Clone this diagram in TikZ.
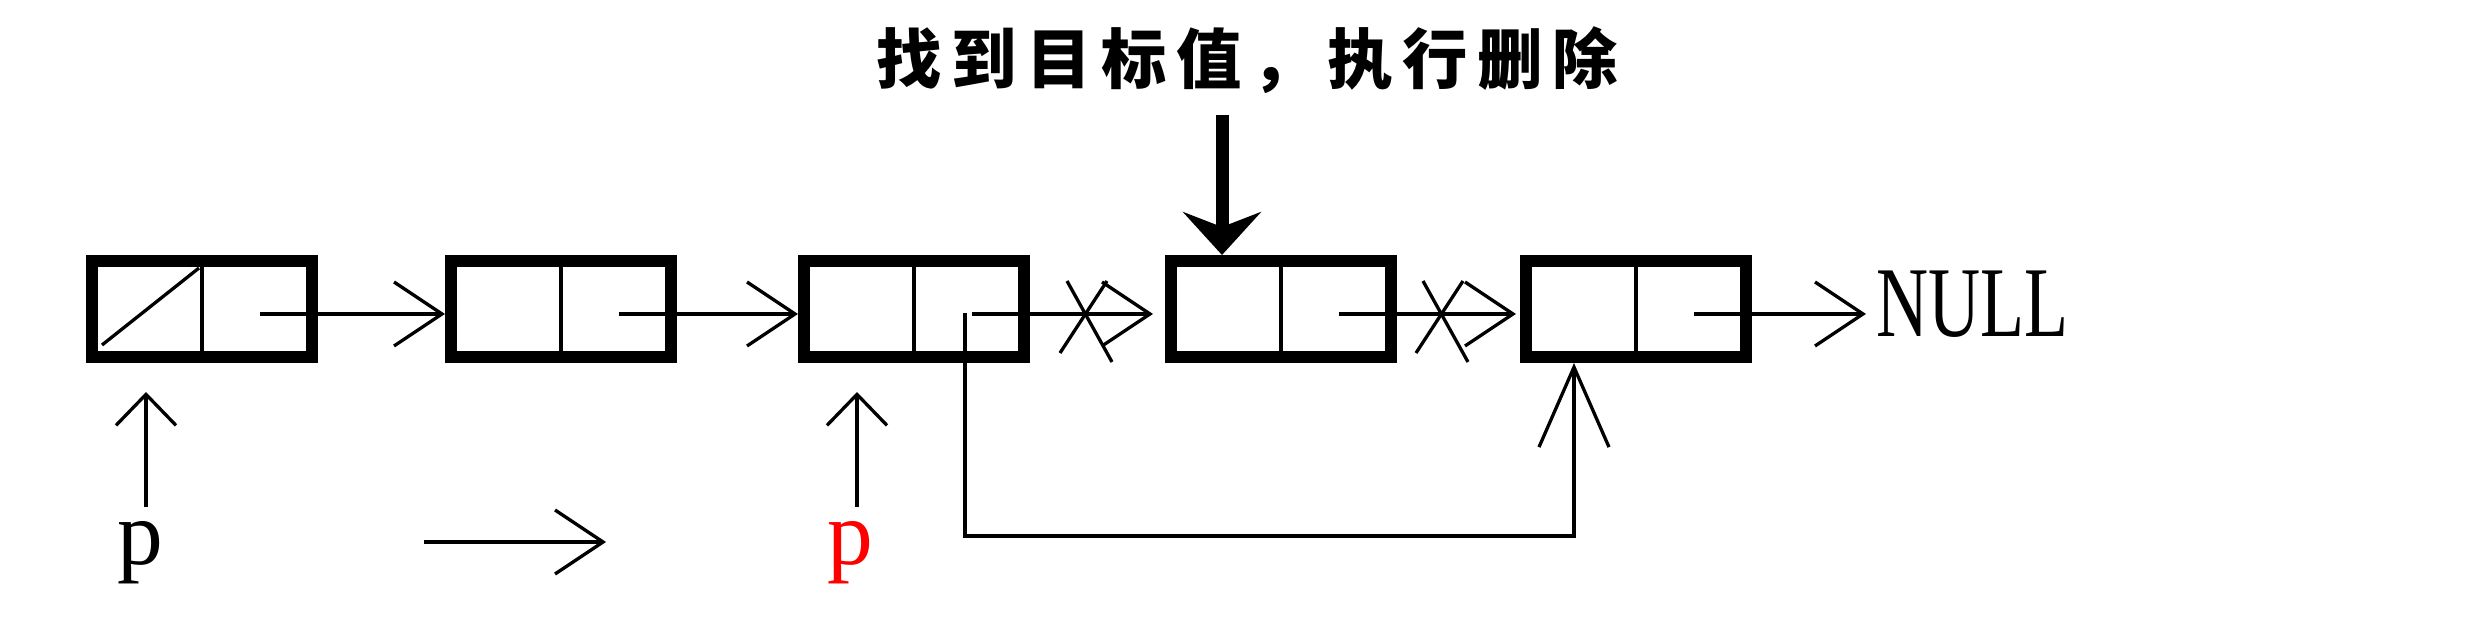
\documentclass[tikz,border=0pt]{standalone}
\usepackage{fontspec}
\setmainfont{Liberation Serif}
\newfontfamily\cjk{Noto Sans CJK SC}[LetterSpace=15]
\usepackage{tikz}
\usetikzlibrary{positioning,arrows.meta,calc}

\begin{document}
\begin{tikzpicture}[
  x=0.1mm, y=-0.1mm,
  cell/.style={draw,line width=1.2mm,minimum width=22mm,minimum height=9.6mm,inner sep=0},
  wire/.style={line width=0.33mm},
  link/.style={wire,-{Straight Barb[length=4.8mm,width=6.4mm]}},
  up/.style={wire,-{Straight Barb[length=3.1mm,width=6mm]}},
  bypass/.style={wire,-{Straight Barb[length=8mm,width=7mm]}},
  hit/.style={line width=1.3mm,-{Stealth[length=4.3mm,width=7.8mm,inset=1.5mm]}},
  ptr/.style={font=\fontsize{26}{28}\selectfont,inner sep=1.4mm,anchor=base},
]
\useasboundingbox (0,0) rectangle (2480,635);
% --- the list ---
\node[cell] (n1) at (202,309) {};
\node[cell,right=12.7mm of n1] (n2) {};
\node[cell,right=12.1mm of n2] (n3) {};
\node[cell,right=13.5mm of n3] (n4) {};
\node[cell,right=12.3mm of n4] (n5) {};
\node[right=11.4mm of n5,yshift=0.5mm,inner sep=1mm,outer sep=0,
  font=\fontsize{28.5}{30}\selectfont] (null) {\scalebox{0.72}[1]{NULL}};
\foreach \i in {1,...,5} {
  \draw[wire] (n\i.north) -- (n\i.south);
  \coordinate (c\i) at ([xshift=5.8mm,yshift=-0.5mm]n\i.center);
}
\draw[wire] ($(n1.center)+(-100,36)$) -- ($(n1.center)+(-3,-41)$);
\draw[link] (c1) -- (n2.west |- c1);
\draw[link] (c2) -- (n3.west |- c2);
\draw[link,shorten >=1.2mm] (c3) -- (n4.west |- c3);
\draw[link,shorten >=0.4mm] (c4) -- (n5.west |- c4);
\draw[link] (c5) -- (null.west |- c5);
% --- cut links ---
\coordinate (x3) at ([xshift=-7.9mm,yshift=-0.5mm]n4.west);
\coordinate (x4) at ([xshift=-7.8mm,yshift=-0.5mm]n5.west);
\foreach \x in {x3,x4} {
  \draw[wire] ($(\x)+(-19,-33)$) -- ($(\x)+(26,48)$);
  \draw[wire] ($(\x)+(-26,39)$) -- ($(\x)+(21,-33)$);
}
% --- new link n3 -> n5 ---
\coordinate (d3) at ([xshift=5.1mm,yshift=-0.4mm]n3.center);
\coordinate (e5) at ([xshift=-6.2mm]n5.south);
\draw[bypass] (d3) -- ++(0,223) -| (e5);
% --- pointers ---
\coordinate (t1) at ([xshift=-5.6mm,yshift=-2.9mm]n1.south);
\coordinate (t3) at ([xshift=-5.7mm,yshift=-2.9mm]n3.south);
\node[ptr] (p1) at (140,565) {p};
\node[ptr,text=red] (p3) at (850,565) {p};
\draw[up] (p1.north -| t1) -- (t1);
\draw[up] (p3.north -| t3) -- (t3);
\coordinate (m1) at (424,542);
\coordinate (m2) at (606,542);
\draw[link] (m1) -- (m2);
% --- target ---
\node[font=\cjk\bfseries\fontsize{18.6}{21}\selectfont] (title) at (1247,60) {找到目标值，执行删除};
\coordinate (h) at ([xshift=-5.9mm,yshift=14mm]n4.north);
\draw[hit] (h) -- ([xshift=-5.9mm]n4.north);
\end{tikzpicture}
\end{document}
